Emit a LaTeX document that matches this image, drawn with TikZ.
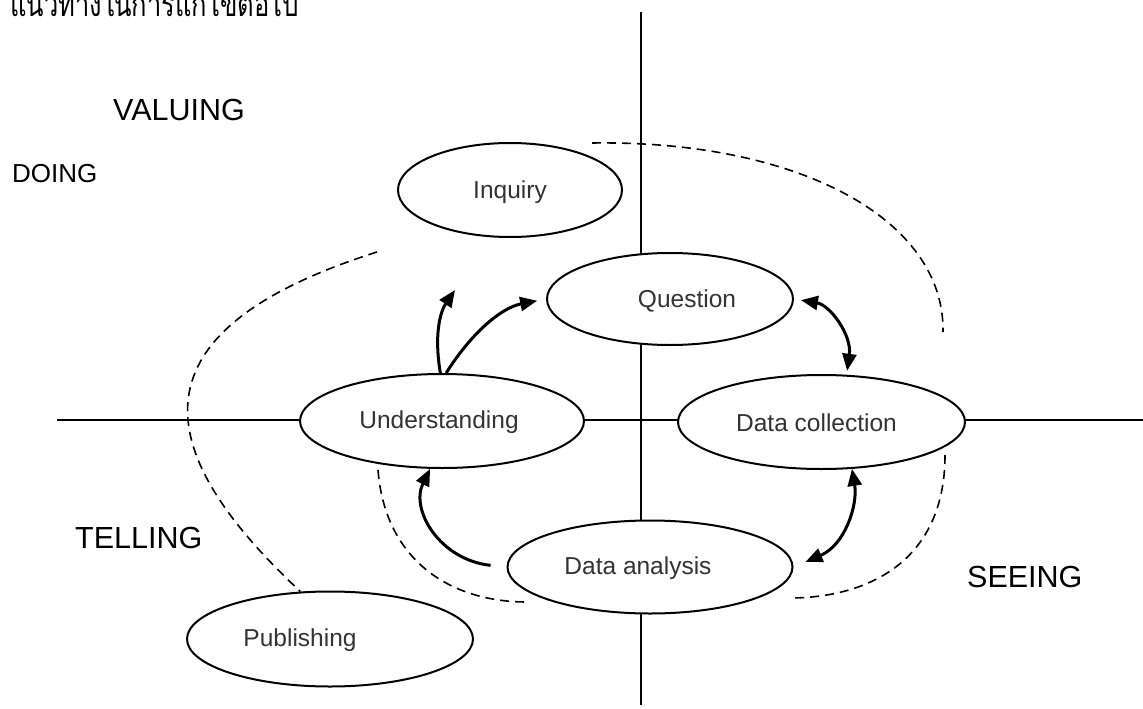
\documentclass[tikz,border=0pt]{standalone}
\usepackage{fontspec}
\setmainfont{Liberation Sans}
\newfontfamily\thaifont[Script=Thai]{Loma}
\usetikzlibrary{arrows.meta,shapes.geometric}
\begin{document}
\begin{tikzpicture}[x=1pt,y=-1pt,
  ell/.style={draw, line width=2pt, fill=white, ellipse, inner sep=0pt},
  lbl/.style={font=\fontsize{24.5}{28}\selectfont, text=black!80},
  big/.style={font=\fontsize{30.5}{36}\selectfont, anchor=base west, inner sep=0pt},
  axisline/.style={line width=2pt},
  tip/.tip={Triangle[length=17pt,width=14pt]},
  arr/.style={line width=3pt, -tip},
  darr/.style={line width=3pt, tip-tip},
  dline/.style={line width=1.6pt, dash pattern=on 9pt off 6pt},
]
\useasboundingbox (0,0) rectangle (1143,709);

% title (Thai)
\node[anchor=base west, inner sep=0pt] (title) at (10,17)
  {\scalebox{0.75}[1]{\thaifont\fontsize{34}{40}\selectfont แนวทางในการแก้ไขต่อไป}};

% axes
\coordinate (vtop) at (641,12);
\coordinate (vbot) at (641,705);
\coordinate (hleft) at (57,420);
\coordinate (hright) at (1143,420);
\draw[axisline] (vtop) -- (vbot);
\draw[axisline] (hleft) -- (hright);

% big labels
\node[big] (valuing) at (113,120) {VALUING};
\node[big, font=\fontsize{26}{30}\selectfont] (doing) at (12,182) {DOING};
\node[big] (telling) at (75,548) {TELLING};
\node[big] (seeing) at (967,587) {SEEING};

% ellipses
\node[ell, minimum width=224pt, minimum height=94pt,
  label={[lbl, yshift=-2pt]center:Inquiry}] (inq) at (510,190) {};
\node[ell, minimum width=246pt, minimum height=92pt,
  label={[lbl, xshift=17pt, yshift=-2pt]center:Question}] (q) at (670,299) {};
\node[ell, minimum width=287pt, minimum height=94pt,
  label={[lbl, xshift=-5pt, yshift=-1pt]center:Data collection}] (dc) at (821.5,422) {};
\node[ell, minimum width=284pt, minimum height=94pt,
  label={[lbl, xshift=-3pt, yshift=-1pt]center:Understanding}] (und) at (442,421) {};
\node[ell, minimum width=285pt, minimum height=93pt,
  label={[lbl, xshift=-12pt, yshift=-1pt]center:Data analysis}] (da) at (650,567) {};
\node[ell, minimum width=286pt, minimum height=95pt,
  label={[lbl, xshift=-30pt, yshift=-1pt]center:Publishing}] (pub) at (330,639) {};

% solid connectors
\coordinate (t1) at (455,290);
\draw[arr] (und.92) .. controls (434,335) and (440,312) .. (t1);
\draw[arr, shorten >=9pt] (und.85) .. controls (470,335) and (500,308) .. (q.west);
\draw[darr, shorten <=7pt, shorten >=4pt] (q.east) .. controls (830,305) and (852,335) .. (dc.62);
\draw[darr, shorten >=13pt] (dc.303) .. controls (858,505) and (845,545) .. (da.east);
\draw[arr, shorten <=16pt] (da.west) .. controls (440,560) and (410,510) .. (und.256);

% dashed region boundaries
\coordinate (a1) at (592,143);
\coordinate (a2) at (943,332);
\draw[dline] (a1) .. controls (800,140) and (945,220) .. (a2);
\coordinate (b1) at (377,252);
\draw[dline] (b1) .. controls (115,335) and (160,460) .. (pub.122);
\coordinate (c1) at (378,470);
\coordinate (c2) at (527,602);
\draw[dline] (c1) .. controls (385,560) and (450,602) .. (c2);
\coordinate (d1) at (945,455);
\coordinate (d2) at (792,598);
\draw[dline] (d1) .. controls (945,560) and (870,597) .. (d2);
\end{tikzpicture}
\end{document}
